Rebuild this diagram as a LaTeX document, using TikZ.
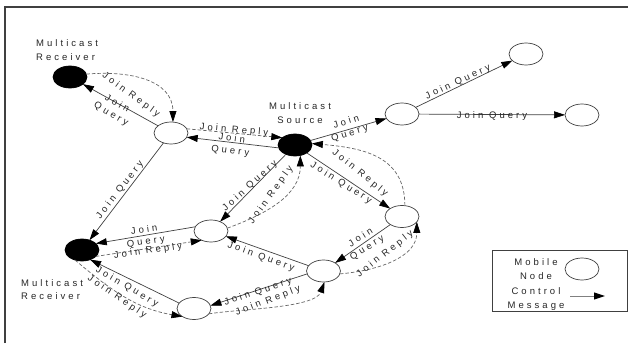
\documentclass[tikz,border=0pt]{standalone}
\usepackage{fontspec}
\newfontfamily\labfont{Liberation Sans}[LetterSpace=32]
\usetikzlibrary{arrows.meta,shapes.geometric}
\tikzset{
  peer/.style={ellipse, draw=black!75, line width=0.7pt, minimum width=34pt,
    minimum height=22pt, inner sep=0pt, outer sep=0pt, fill=white},
  member/.style={peer, fill=black, draw=black},
  query/.style={draw=black!75, line width=0.7pt,
    -{Triangle[length=11pt,width=7pt,black]}},
  reply/.style={query, draw=black!60, dash pattern=on 3.5pt off 2pt},
  tag/.style={font=\labfont\fontsize{9.5}{12}\selectfont, text=black!85,
    inner sep=0pt, align=center},
  role/.style={tag, font=\labfont\fontsize{9.5}{13.5}\selectfont},
}
\begin{document}
\begin{tikzpicture}[x=1pt,y=1pt]
\useasboundingbox (0,0) rectangle (628,343);
% frame
\draw[line width=1.6pt, black!75] (5,0) -- (5,336) -- (628,336);

% nodes
\node[member] (R1) at (70,266) {};
\node[peer]   (A)  at (171,210) {};
\node[member] (S)  at (295,198) {};
\node[peer]   (B)  at (402,229) {};
\node[peer]   (C)  at (526,289) {};
\node[peer]   (D)  at (582,228) {};
\node[peer]   (E)  at (402,126.5) {};
\node[peer]   (F)  at (323.5,72) {};
\node[peer]   (G)  at (211,112) {};
\node[member] (R2) at (82,93) {};
\node[peer]   (H)  at (194,34.5) {};

% role captions
\node[role, align=left, anchor=west] (rtop) at (36,293) {Multicast\\Receiver};
\node[role] (src) at (300,230) {Multicast\\Source};
\node[role, align=left, anchor=west] (rbot) at (21,53.5) {Multicast\\Receiver};

% join queries (solid) and join replies (dashed)
\draw[query] (A) -- (R1);
\draw[reply] (R1.10) to[out=5,in=90,looseness=1.1] (A.80);
\draw[query] (S.190) -- (A.-15);
\draw[reply] (A.15) -- (S.150);
\draw[query] (A) -- (R2);
\draw[query] (S) -- (B);
\draw[query] (B) -- (C);
\draw[query] (B) -- (D);
\draw[query] (S) -- (E);
\draw[reply] (E.75) to[out=90,in=-5,looseness=1.15] (S.5);
\draw[query] (S) -- (G);
\draw[reply] (G.10) to[out=20,in=-90] (S.-63);
\draw[query] (G.165) -- (R2.25);
\draw[reply] (R2.-25) -- (G.-135);
\draw[query] (E) -- (F);
\draw[reply] (F.-10) to[out=5,in=-90] (E.-20);
\draw[query] (F) -- (G);
\draw[query] (F.190) -- (H.10);
\draw[reply] (H.-20) to[out=10,in=-110,looseness=0.6] (F.-85);
\draw[query] (H.160) -- (R2.-50);
\draw[reply] (R2.-125) to[out=-40,in=170] (H.-145);

% message captions
\node[tag, rotate=-30] (l1)  at (114,234) {Join\\Query};
\node[tag, rotate=-36] (l2)  at (131,248) {Join Reply};
\node[tag, rotate=-7]  (l3)  at (231,198) {Join\\Query};
\node[tag, rotate=-5]  (l4)  at (234,213) {Join Reply};
\node[tag, rotate=52]  (l5)  at (120,153) {Join Query};
\node[tag, rotate=17]  (l6)  at (348,215) {Join\\Query};
\node[tag, rotate=25]  (l7)  at (458,261) {Join Query};
\node[tag]             (l8)  at (492,227) {Join Query};
\node[tag, rotate=-32] (l9)  at (341,160) {Join Query};
\node[tag, rotate=-39] (l10) at (360,170) {Join Reply};
\node[tag, rotate=42]  (l11) at (250,157) {Join Query};
\node[tag, rotate=54]  (l12) at (271,148) {Join Reply};
\node[tag, rotate=8]   (l13) at (145,107) {Join\\Query};
\node[tag, rotate=8]   (l14) at (148,92)  {Join Reply};
\node[tag, rotate=32]  (l15) at (364,100) {Join\\Query};
\node[tag, rotate=38]  (l16) at (385,89)  {Join Reply};
\node[tag, rotate=-20] (l17) at (261,86)  {Join Query};
\node[tag, rotate=18]  (l18) at (258,51)  {Join Query};
\node[tag, rotate=21]  (l19) at (268,42)  {Join Reply};
\node[tag, rotate=-30] (l20) at (127,56)  {Join Query};
\node[tag, rotate=-34] (l21) at (117,46)  {Join Reply};

% legend
\node[draw=black!75, line width=0.7pt, minimum width=135pt, minimum height=61pt,
  inner sep=0pt] (key) at (559.5,62.5) {};
\node[role] (k1) at (536,74) {Mobile\\Node};
\node[peer] (k2) at (582,74) {};
\node[role] (k3) at (536,44) {Control\\Message};
\coordinate (k4) at (570,47);
\coordinate (k5) at (605,47);
\draw[query, draw=black!50, line width=1pt] (k4) -- (k5);
\end{tikzpicture}
\end{document}
